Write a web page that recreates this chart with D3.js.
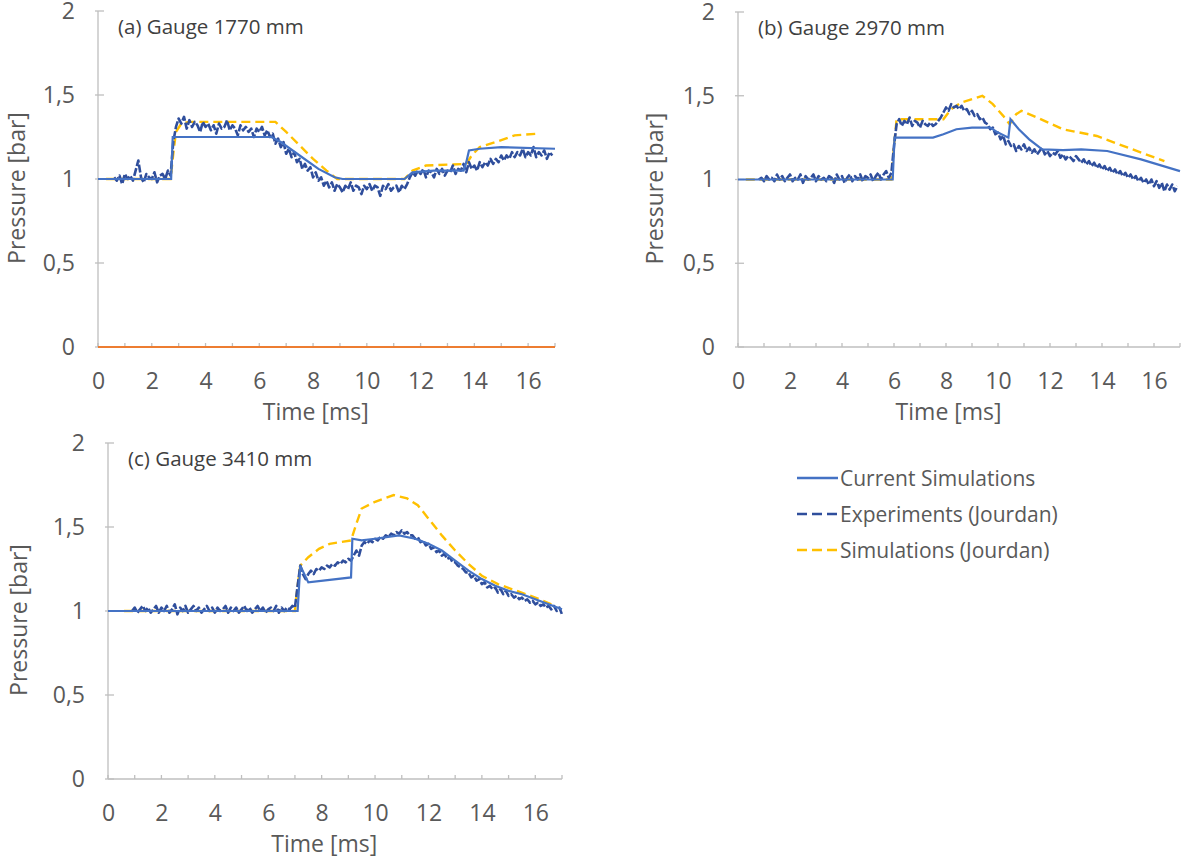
<!DOCTYPE html>
<html>
<head>
<meta charset="utf-8">
<script src="https://cdn.jsdelivr.net/npm/d3@7"></script>
<style>
  body { margin: 0; background: #fff; }
  svg text { font-family: "Open Sans", sans-serif; }
</style>
</head>
<body>
<div id="my_dataviz"></div>
<script>
// tick labels + legend
var yTicks = [0, 0.5, 1, 1.5, 2];
var xTicks = [0, 2, 4, 6, 8, 10, 12, 14, 16];
var xMinor = [0, 1, 2, 3, 4, 5, 6, 7, 8, 9, 10, 11, 12, 13, 14, 15, 16, 17];
var seriesNames = ["Current Simulations", "Experiments (Jourdan)", "Simulations (Jourdan)"];
var panelTitles = ["(a) Gauge 1770 mm", "(b) Gauge 2970 mm", "(c) Gauge 3410 mm"];

// ---- (a) gauge 1770 mm ----
var curA = [[0,1.0],[2.72,1.0],[2.78,1.25],[6.45,1.25],[6.8,1.22],[7.5,1.14],[8.2,1.06],[8.8,1.01],[9.1,1.0],
  [11.4,1.0],[11.7,1.04],[12.5,1.05],[13.6,1.05],[13.7,1.10],[13.8,1.17],[14.2,1.18],[15,1.19],[17,1.18]];
var jouA = [[0.3,1.0],[2.7,1.0],[2.8,1.15],[2.9,1.28],[3.1,1.33],[3.4,1.34],[6.6,1.34],[7.0,1.28],[7.5,1.2],
  [8.0,1.12],[8.5,1.05],[8.9,1.0],[11.4,1.0],[11.7,1.05],[12.2,1.08],[13.7,1.09],[13.9,1.14],[14.2,1.19],
  [14.8,1.22],[15.5,1.26],[16.4,1.27]];
var expStartA = 0.6;
var expA = [1.01,0.99,1.02,0.97,1.03,1.00,1.02,0.99,1.05,1.11,1.01,0.98,1.03,1.01,1.00,1.04,0.98,1.02,1.03,1.00,1.05,1.02,
  1.22,1.31,1.36,1.33,1.37,1.30,1.35,1.31,1.34,1.32,1.28,1.34,1.31,1.33,1.29,1.32,1.27,1.33,1.30,1.31,1.35,1.29,
  1.32,1.30,1.26,1.32,1.29,1.31,1.28,1.30,1.25,1.30,1.28,1.31,1.26,
  1.29,1.25,1.27,1.21,1.24,1.19,1.22,1.15,1.18,1.13,1.16,1.10,1.12,1.06,1.09,1.05,1.07,1.01,1.04,0.99,1.01,0.96,
  0.99,0.95,0.98,0.93,0.97,
  0.95,0.92,0.96,0.94,0.98,0.93,0.96,0.95,0.91,0.96,0.94,0.97,0.93,0.96,0.95,0.90,0.96,0.94,0.97,0.93,0.95,0.96,
  0.92,0.96,0.94,0.97,
  1.01,1.04,1.02,1.05,1.03,1.06,1.01,1.05,1.04,1.01,1.06,1.03,1.06,1.02,1.05,1.04,1.08,1.03,1.06,1.05,1.09,1.04,1.10,
  1.06,1.08,1.05,1.10,1.07,1.10,1.08,1.12,1.09,1.12,1.10,1.14,1.11,1.14,1.12,1.16,1.13,1.16,1.14,1.18,1.13,1.16,
  1.14,1.19,1.13,1.16,1.14,1.17,1.12,1.16,1.14];

// ---- (b) gauge 2970 mm ----
var curB = [[0,1.0],[5.95,1.0],[6.02,1.25],[7.5,1.25],[7.9,1.27],[8.4,1.30],[9.0,1.31],[9.7,1.31],[10.0,1.28],
  [10.4,1.25],[10.48,1.36],[10.8,1.30],[11.2,1.24],[11.7,1.18],[12.5,1.175],[13.2,1.18],[14.2,1.17],[15.5,1.12],[17,1.05]];
var jouB = [[0.3,1.0],[5.9,1.0],[6.0,1.2],[6.1,1.36],[7.9,1.36],[8.2,1.42],[8.6,1.46],[9.4,1.50],[9.8,1.45],
  [10.2,1.38],[10.45,1.33],[10.7,1.39],[10.9,1.41],[11.5,1.37],[12.5,1.30],[13.8,1.26],[15,1.19],[16.4,1.11]];
var expStartB = 0.8;
var expB = [1.00,1.01,0.99,1.02,1.00,1.01,0.99,1.03,1.00,1.02,0.99,1.01,1.03,0.99,1.01,1.00,1.03,0.98,1.02,1.00,
  1.01,1.03,0.99,1.02,1.00,1.01,0.99,1.02,1.01,0.98,1.03,1.00,1.02,0.98,1.01,1.03,0.99,1.02,1.00,1.03,0.99,1.02,
  1.01,1.03,0.99,1.02,1.04,1.00,1.03,1.05,1.01,1.04,
  1.20,1.33,1.36,1.32,1.35,1.33,1.37,1.32,1.35,1.34,1.31,1.35,1.33,1.32,1.34,1.32,1.33,1.35,
  1.37,1.40,1.43,1.41,1.45,1.43,1.44,
  1.42,1.44,1.41,1.42,1.39,1.41,1.38,1.39,1.36,1.37,1.34,1.33,1.30,1.31,1.27,1.28,1.24,1.26,1.21,1.23,1.20,
  1.21,1.17,1.20,1.18,1.21,1.17,1.19,1.16,1.18,1.15,1.17,1.19,1.15,1.17,1.14,1.16,1.15,1.17,1.13,1.15,1.12,1.14,
  1.13,1.11,1.14,1.12,1.10,1.12,1.09,1.11,1.08,1.10,1.07,1.09,1.06,1.08,1.05,1.07,1.04,1.06,1.03,1.05,1.02,1.04,
  1.01,1.03,1.00,1.02,0.99,1.01,0.98,1.00,0.97,1.00,0.96,0.99,0.95,0.98,0.93,0.97,0.94,0.97,0.93,0.96];

// ---- (c) gauge 3410 mm ----
var curC = [[0,1.0],[7.1,1.0],[7.2,1.27],[7.5,1.17],[9.1,1.20],[9.15,1.43],[9.5,1.42],[10.0,1.43],[10.9,1.45],
  [11.5,1.43],[12,1.40],[12.5,1.36],[13,1.30],[13.5,1.24],[14,1.19],[14.5,1.15],[15,1.12],[15.5,1.10],[16,1.07],
  [16.5,1.04],[17,1.01]];
var jouC = [[0.6,1.0],[7.0,1.0],[7.1,1.15],[7.2,1.27],[7.5,1.32],[7.9,1.37],[8.3,1.40],[9.1,1.42],[9.3,1.52],
  [9.5,1.61],[10.0,1.65],[10.7,1.69],[11.2,1.67],[11.6,1.63],[12.1,1.53],[12.5,1.45],[13.0,1.36],[13.5,1.28],
  [14.0,1.21],[14.6,1.16],[15.3,1.12],[16.0,1.08],[16.6,1.04]];
var expStartC = 0.9;
var expC = [1.00,1.02,0.99,1.01,1.03,1.00,1.02,0.99,1.01,1.03,0.99,1.02,1.00,1.03,0.99,1.01,1.04,0.98,1.02,1.00,
  1.03,0.99,1.01,1.03,1.00,1.02,0.99,1.01,1.03,1.00,1.02,0.99,1.02,1.00,1.01,1.03,0.99,1.02,1.00,1.02,0.99,1.01,
  1.03,1.00,1.02,0.99,1.01,1.03,1.00,1.02,0.99,1.01,1.02,1.00,1.03,0.99,1.02,1.00,1.02,1.01,1.03,1.02,
  1.15,1.27,1.22,1.19,1.22,1.24,1.22,1.25,1.24,1.26,1.25,1.27,1.26,1.28,1.27,1.29,1.28,1.30,1.29,1.31,1.30,
  1.33,1.36,1.33,1.39,1.41,1.40,1.42,1.41,1.43,1.42,1.44,1.43,1.45,1.44,1.46,1.45,1.47,1.46,1.48,
  1.46,1.47,1.45,1.45,1.43,1.44,1.41,1.42,1.39,1.40,1.37,1.38,1.35,1.36,1.33,1.34,1.31,1.32,1.29,1.29,1.27,1.26,
  1.25,1.23,1.23,1.20,1.21,1.18,1.19,1.16,1.17,1.14,1.15,1.13,1.14,1.11,1.13,1.10,1.12,1.09,1.10,1.08,1.09,1.07,
  1.08,1.06,1.07,1.05,1.06,1.04,1.05,1.03,1.04,1.02,1.03,1.01,1.03,1.00,1.02,0.98];

// colors
var colCur = "#4472C4", colExp = "#2F4E9C", colJou = "#FFC000";
var axisGrey = "#BFBFBF", textGrey = "#595959";

// sampled experiment -> [t, p] pairs
function toPairs(start, vals) {
  return vals.map(function(v, i) { return [Math.round((start + i * 0.1) * 10) / 10, v]; });
}

var panels = [
  { title: panelTitles[0], cur: curA, jou: jouA, exp: toPairs(expStartA, expA),
    x0: 98, x1: 555, yTop: 11, yBot: 347, labX: 25, orangeAxis: true },
  { title: panelTitles[1], cur: curB, jou: jouB, exp: toPairs(expStartB, expB),
    x0: 738, x1: 1180, yTop: 12, yBot: 347, labX: 663, orangeAxis: false },
  { title: panelTitles[2], cur: curC, jou: jouC, exp: toPairs(expStartC, expC),
    x0: 108, x1: 562, yTop: 443, yBot: 779, labX: 27, orangeAxis: false }
];

var svg = d3.select("#my_dataviz")
  .append("svg")
    .attr("width", 1181)
    .attr("height", 858);

var commaFmt = function(d) { return String(d).replace(".", ","); };

panels.forEach(function(p) {
  var g = svg.append("g");

  var x = d3.scaleLinear().domain([0, 17]).range([p.x0, p.x1]);
  var y = d3.scaleLinear().domain([0, 2]).range([p.yBot, p.yTop]);

  // Y axis (labels only, line + cross ticks drawn below)
  var yAx = g.append("g")
    .attr("transform", "translate(" + p.x0 + ",0)")
    .call(d3.axisLeft(y).tickValues(yTicks).tickFormat(commaFmt).tickSize(0).tickPadding(23));
  yAx.select(".domain").remove();
  yAx.selectAll("text").attr("fill", textGrey).style("font-size", "23px");

  g.append("line")
    .attr("x1", p.x0).attr("x2", p.x0)
    .attr("y1", y(0)).attr("y2", y(2))
    .attr("stroke", axisGrey).attr("stroke-width", 1.3);
  g.selectAll(".ytk").data(yTicks).enter().append("line")
    .attr("x1", p.x0 - 3).attr("x2", p.x0 + 6)
    .attr("y1", function(d) { return y(d); }).attr("y2", function(d) { return y(d); })
    .attr("stroke", axisGrey).attr("stroke-width", 1.3);

  // X axis
  var xAx = g.append("g")
    .attr("transform", "translate(0," + p.yBot + ")")
    .call(d3.axisBottom(x).tickValues(xTicks).tickSize(0).tickPadding(26));
  xAx.select(".domain").remove();
  xAx.selectAll("text").attr("fill", textGrey).style("font-size", "23px");

  g.selectAll(".xtk").data(xMinor).enter().append("line")
    .attr("x1", function(d) { return x(d); }).attr("x2", function(d) { return x(d); })
    .attr("y1", p.yBot).attr("y2", p.yBot - 4)
    .attr("stroke", axisGrey).attr("stroke-width", 1.3);
  g.append("line")
    .attr("x1", p.x0).attr("x2", p.x1)
    .attr("y1", p.yBot).attr("y2", p.yBot)
    .attr("stroke", p.orangeAxis ? "#ED7D31" : axisGrey)
    .attr("stroke-width", p.orangeAxis ? 2.2 : 1.3);

  // axis titles
  g.append("text")
    .attr("transform", "translate(" + p.labX + "," + (y(1) + 9) + ") rotate(-90)")
    .attr("text-anchor", "middle")
    .attr("fill", textGrey)
    .style("font-size", "23px")
    .text("Pressure [bar]");
  g.append("text")
    .attr("x", x(8.1)).attr("y", p.yBot + 73)
    .attr("text-anchor", "middle")
    .attr("fill", textGrey)
    .style("font-size", "23px")
    .text("Time [ms]");

  // panel title
  g.append("text")
    .attr("x", p.x0 + 20).attr("y", p.yTop + 23)
    .attr("fill", "#404040")
    .style("font-size", "20.5px")
    .text(p.title);

  var line = d3.line()
    .x(function(d) { return x(d[0]); })
    .y(function(d) { return y(d[1]); });

  // Jourdan simulations (dashed yellow)
  g.append("path")
    .datum(p.jou)
    .attr("fill", "none")
    .attr("stroke", colJou)
    .attr("stroke-width", 2.4)
    .attr("stroke-dasharray", "9,5")
    .attr("d", line);

  // Experiments (dashed dark blue)
  g.append("path")
    .datum(p.exp)
    .attr("fill", "none")
    .attr("stroke", colExp)
    .attr("stroke-width", 2.6)
    .attr("stroke-dasharray", "8,2")
    .attr("stroke-linejoin", "round")
    .attr("d", line);

  // Current simulations (solid)
  g.append("path")
    .datum(p.cur)
    .attr("fill", "none")
    .attr("stroke", colCur)
    .attr("stroke-width", 2.2)
    .attr("d", line);
});

// Legend
var legend = svg.append("g").attr("transform", "translate(797,478)");
var legStyles = [
  { color: colCur, dash: null },
  { color: colExp, dash: "10,5" },
  { color: colJou, dash: "10,5" }
];
legend.selectAll(".leg").data(seriesNames).enter().append("g")
  .attr("transform", function(d, i) { return "translate(0," + (i * 36) + ")"; })
  .each(function(d, i) {
    var s = d3.select(this);
    s.append("line")
      .attr("x1", 0).attr("x2", 41).attr("y1", 0).attr("y2", 0)
      .attr("stroke", legStyles[i].color)
      .attr("stroke-width", 2.6)
      .attr("stroke-dasharray", legStyles[i].dash);
    s.append("text")
      .attr("x", 43).attr("y", 7.5)
      .attr("fill", textGrey)
      .style("font-size", "21px")
      .text(d);
  });
</script>
</body>
</html>
